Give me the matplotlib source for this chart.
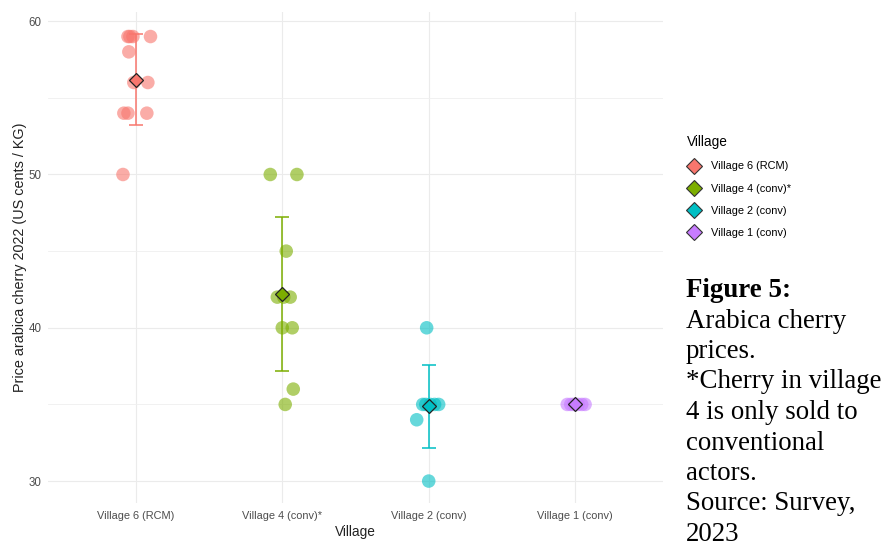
import matplotlib.pyplot as plt
import numpy as np
from matplotlib.lines import Line2D

plt.rcParams['font.family'] = ['Liberation Sans', 'DejaVu Sans']

# Precos por aldeia (US cents / KG)
villages = ['Village 6 (RCM)', 'Village 4 (conv)*', 'Village 2 (conv)', 'Village 1 (conv)']
colors = ['#F8766D', '#7CAE00', '#00BFC4', '#C77CFF']

price_v6 = [59, 59, 59, 59, 58, 56, 56, 54, 54, 54, 50]
price_v4 = [50, 50, 45, 42, 42, 42, 40, 40, 36, 35]
price_v2 = [40, 35, 35, 35, 35, 35, 34, 30]
price_v1 = [35, 35, 35, 35, 35, 35]

# deslocamento horizontal fixo (jitter) de cada ponto
jitter_v6 = [-0.054, -0.041, -0.020, 0.100, -0.048, -0.014, 0.082, -0.082, -0.054, 0.075, -0.088]
jitter_v4 = [-0.082, 0.100, 0.027, -0.034, 0.010, 0.054, 0.000, 0.068, 0.075, 0.020]
jitter_v2 = [-0.014, -0.041, 0.068, -0.020, 0.010, 0.040, -0.082, 0.000]
jitter_v1 = [-0.054, -0.030, -0.010, 0.020, 0.045, 0.068]

prices = [price_v6, price_v4, price_v2, price_v1]
jitters = [jitter_v6, jitter_v4, jitter_v2, jitter_v1]

caption_bold = 'Figure 5:'
caption = ['Arabica cherry', 'prices.', '*Cherry in village', '4 is only sold to',
           'conventional', 'actors.', 'Source: Survey,', '2023']

fig = plt.figure(figsize=(8.86, 5.48), dpi=100)
W, H = 886, 548
ax = fig.add_axes([48 / W, 45 / H, 615 / W, 491 / H])

for i, (vals, jit, cor) in enumerate(zip(prices, jitters, colors)):
    x = i + 1
    vals = np.array(vals, dtype=float)
    ax.scatter(x + np.array(jit), vals, s=95, color=cor, alpha=0.6,
               edgecolors='none', zorder=2)
    media = vals.mean()
    dp = vals.std(ddof=1)
    ax.errorbar(x, media, yerr=dp, fmt='none', ecolor=cor, elinewidth=1.1,
                capsize=5, capthick=1.1, zorder=3)
    ax.plot(x, media, marker='D', markersize=7.4, markerfacecolor=cor,
            markeredgecolor='#222222', markeredgewidth=0.9, linestyle='none', zorder=4)

ax.set_xlim(0.4, 4.6)
ax.set_ylim(28.57, 60.6)
ax.set_xticks(range(1, 5))
ax.set_xticklabels(villages)
ax.set_yticks([30, 40, 50, 60])
ax.set_yticks([35, 45, 55], minor=True)

ax.grid(True, which='major', color='#EBEBEB', linewidth=0.8)
ax.grid(True, which='minor', axis='y', color='#EFEFEF', linewidth=0.6)
ax.set_axisbelow(True)
for s in ax.spines.values():
    s.set_visible(False)
ax.tick_params(which='both', length=0)
ax.tick_params(axis='x', labelsize=7.9, labelcolor='#4D4D4D', pad=5.5)
ax.tick_params(axis='y', labelsize=8.3, labelcolor='#4D4D4D', pad=4.5)

ax.set_xlabel('Village', fontsize=9.8, color='#222222', labelpad=3)
ax.set_ylabel('Price arabica cherry 2022 (US cents / KG)', fontsize=10.4,
              color='#222222', labelpad=1.5)

# legenda com os losangos das medias
handles = [Line2D([], [], marker='D', linestyle='none', markersize=7.8,
                  markerfacecolor=c, markeredgecolor='#333333', markeredgewidth=0.8)
           for c in colors]
leg = fig.legend(handles, villages, loc='upper left', bbox_to_anchor=(683 / W, 1 - 131 / H),
                 frameon=False, title='Village', fontsize=7.9, title_fontsize=9.8,
                 alignment='left', labelspacing=1.1, handletextpad=0.95,
                 handlelength=1.2, borderaxespad=0)

# legenda da figura
fig.text(686 / W, 1 - 297 / H, caption_bold, fontsize=19.4, fontweight='bold',
         family='Liberation Serif', va='baseline')
for k, linha in enumerate(caption):
    fig.text(686 / W, 1 - (297 + 30.5 * (k + 1)) / H, linha, fontsize=19.4,
             family='Liberation Serif', va='baseline')

fig.savefig('out.png', dpi=100)
